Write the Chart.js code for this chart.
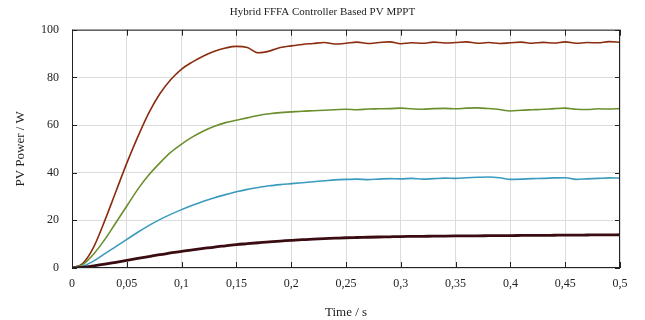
<!DOCTYPE html>
<html>
<head>
<meta charset="utf-8">
<script src="https://cdn.jsdelivr.net/npm/chart.js@4/dist/chart.umd.min.js"></script>
<style>
  body { margin: 0; background: #fff; }
</style>
</head>
<body>
<canvas id="canvas" width="645" height="320"></canvas>
<script>
// time axis, seconds
var T = [0, 0.01, 0.02, 0.03, 0.04, 0.05, 0.06, 0.07, 0.08, 0.09,
         0.1, 0.11, 0.12, 0.13, 0.14, 0.15, 0.16, 0.17, 0.18, 0.19,
         0.2, 0.21, 0.22, 0.23, 0.24, 0.25, 0.26, 0.27, 0.28, 0.29,
         0.3, 0.31, 0.32, 0.33, 0.34, 0.35, 0.36, 0.37, 0.38, 0.39,
         0.4, 0.41, 0.42, 0.43, 0.44, 0.45, 0.46, 0.47, 0.48, 0.49, 0.5];

// PV power (W)
var P_brown = [0, 2, 9, 20, 32, 44, 55, 65, 73, 79,
               83.5, 86.5, 89, 91, 92.3, 93, 92.5, 90.3, 91, 92.5,
               93.2, 93.8, 94.2, 94.6, 94, 94.3, 94.8, 94.2, 94.6, 94.9,
               94.1, 94.5, 94.3, 94.8, 94.4, 94.6, 94.9, 94.3, 94.6, 94.2,
               94.5, 94.8, 94.3, 94.7, 94.4, 94.9, 94.3, 94.6, 94.5, 95, 94.7];
var P_green = [0, 1.5, 6, 12, 19, 26, 33, 39, 44, 48.5,
               52, 55, 57.5, 59.5, 61, 62, 63, 64, 64.7, 65.2,
               65.5, 65.8, 66, 66.2, 66.4, 66.6, 66.4, 66.7, 66.8, 66.9,
               67.1, 66.8, 66.6, 66.9, 67, 66.8, 67.1, 67.2, 66.9, 66.5,
               65.9, 66.2, 66.4, 66.6, 66.9, 67.1, 66.6, 66.5, 66.8, 66.7, 66.9];
var P_blue = [0, 0.8, 3, 6, 9, 12, 15, 17.8, 20.3, 22.5,
              24.5, 26.3, 28, 29.5, 30.8, 32, 33, 33.8, 34.5, 35,
              35.4, 35.8, 36.2, 36.6, 37, 37.2, 37.3, 37.1, 37.3, 37.5,
              37.4, 37.6, 37.3, 37.5, 37.7, 37.6, 37.9, 38.1, 38.2, 37.9,
              37.2, 37.3, 37.5, 37.6, 37.8, 37.9, 37.2, 37.4, 37.6, 37.8, 37.7];
var P_dark = [0, 0.3, 0.9, 1.6, 2.4, 3.2, 4, 4.8, 5.6, 6.3,
              7, 7.6, 8.2, 8.8, 9.3, 9.8, 10.2, 10.6, 11, 11.3,
              11.6, 11.9, 12.1, 12.3, 12.5, 12.7, 12.8, 12.9, 13, 13.1,
              13.2, 13.25, 13.3, 13.35, 13.4, 13.45, 13.5, 13.5, 13.55, 13.6,
              13.6, 13.65, 13.7, 13.7, 13.75, 13.8, 13.8, 13.85, 13.9, 13.9, 13.95];

var serif = "'Liberation Serif', 'DejaVu Serif', serif";

function pts(arr) {
  return T.map(function(t, i) { return { x: t, y: arr[i] }; });
}

function line(arr, color, w) {
  return {
    data: pts(arr),
    yAxisID: 'y',
    borderColor: color,
    borderWidth: w,
    pointRadius: 0,
    fill: false,
    cubicInterpolationMode: 'monotone'
  };
}

// frame + inward tick marks, like the original plot
var framePlugin = {
  id: 'frame',
  afterDatasetsDraw: function(chart) {
    var ctx = chart.ctx, a = chart.chartArea;
    var xs = chart.scales.x, ys = chart.scales.y;
    ctx.save();
    ctx.strokeStyle = '#222';
    ctx.lineWidth = 1;
    ctx.strokeRect(a.left + 0.5, a.top + 0.5, a.right - a.left - 1, a.bottom - a.top - 1);
    ctx.beginPath();
    xs.ticks.forEach(function(t) {
      var px = Math.round(xs.getPixelForValue(t.value)) + 0.5;
      ctx.moveTo(px, a.top); ctx.lineTo(px, a.top + 6);
      ctx.moveTo(px, a.bottom); ctx.lineTo(px, a.bottom - 6);
    });
    ys.ticks.forEach(function(t) {
      var py = Math.round(ys.getPixelForValue(t.value)) + 0.5;
      ctx.moveTo(a.left, py); ctx.lineTo(a.left + 5, py);
      ctx.moveTo(a.right, py); ctx.lineTo(a.right - 5, py);
    });
    ctx.stroke();
    ctx.restore();
  }
};

var chart_config = {
  type: 'line',
  data: {
    datasets: [
      line(P_dark, '#3a0c12', 2.8),
      line(P_blue, '#3b9bbf', 1.6),
      line(P_green, '#6a8f2c', 1.6),
      line(P_brown, '#8b2c0f', 1.6)
    ]
  },
  options: {
    responsive: false,
    animation: false,
    devicePixelRatio: 1,
    layout: { padding: 0 },
    plugins: {
      legend: { display: false },
      tooltip: { enabled: false },
      title: {
        display: true,
        text: 'Hybrid FFFA Controller Based PV MPPT',
        color: '#222',
        font: { family: serif, size: 11, weight: 'normal' },
        padding: { top: 6, bottom: 10.5 }
      }
    },
    scales: {
      x: {
        type: 'linear',
        min: 0, max: 0.5,
        afterFit: function(s) { s.height = 52; },
        grid: { color: '#dcdcdc', drawTicks: false },
        border: { display: false },
        ticks: {
          stepSize: 0.05,
          padding: 9,
          color: '#222',
          maxRotation: 0,
          font: { family: serif, size: 12 },
          callback: function(v) { return String(Math.round(v * 100) / 100).replace('.', ','); }
        },
        title: {
          display: true,
          text: 'Time / s',
          color: '#222',
          font: { family: serif, size: 13 },
          padding: { top: 0, bottom: 0 }
        }
      },
      y: {
        position: 'left',
        min: 0, max: 100,
        afterFit: function(s) { s.width = 72; },
        grid: { color: '#dcdcdc', drawTicks: false },
        border: { display: false },
        ticks: {
          stepSize: 20,
          padding: 13,
          color: '#222',
          font: { family: serif, size: 12 }
        },
        title: {
          display: true,
          text: 'PV Power / W',
          color: '#222',
          font: { family: serif, size: 13 },
          padding: { top: 13, bottom: 0 }
        }
      },
      // empty right-hand strip so the plot ends where the original does
      y2: {
        position: 'right',
        min: 0, max: 100,
        afterFit: function(s) { s.width = 25; },
        grid: { display: false },
        border: { display: false },
        ticks: { display: false }
      }
    }
  },
  plugins: [framePlugin]
};

window.onload = function() {
  var ctx = document.getElementById('canvas').getContext('2d');
  window.myLine = new Chart(ctx, chart_config);
};
</script>
</body>
</html>
